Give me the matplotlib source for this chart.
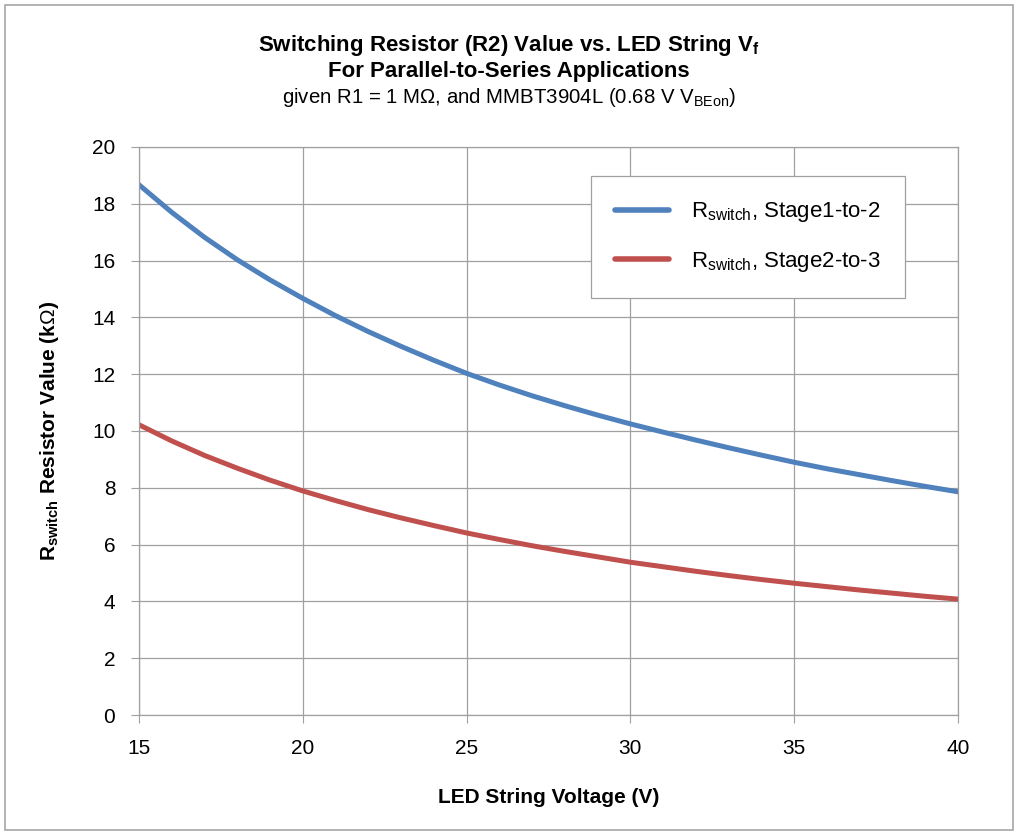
import matplotlib
matplotlib.use("Agg")
import matplotlib.pyplot as plt
from matplotlib.patches import Rectangle

plt.rcParams['font.family'] = ['Liberation Sans', 'DejaVu Sans']
plt.rcParams['mathtext.fontset'] = 'custom'
plt.rcParams['mathtext.rm'] = 'Liberation Sans'
plt.rcParams['mathtext.bf'] = 'Liberation Sans:bold'

voltage = [15, 16, 17, 18, 19, 20, 21, 22, 23, 24, 25, 26, 27, 28, 29, 30,
           31, 32, 33, 34, 35, 36, 37, 38, 39, 40]
stage1_to_2 = [18.67, 17.70, 16.82, 16.03, 15.32, 14.67, 14.06, 13.50, 12.98, 12.49,
               12.03, 11.62, 11.24, 10.89, 10.56, 10.25, 9.96, 9.68, 9.41, 9.15,
               8.90, 8.67, 8.46, 8.25, 8.05, 7.86]
stage2_to_3 = [10.22, 9.65, 9.14, 8.69, 8.27, 7.89, 7.55, 7.23, 6.94, 6.67,
               6.41, 6.18, 5.96, 5.76, 5.57, 5.38, 5.22, 5.06, 4.91, 4.77,
               4.64, 4.52, 4.40, 4.29, 4.18, 4.08]
series_labels = [r"R$_{\mathregular{switch}}$, Stage1-to-2",
                 r"R$_{\mathregular{switch}}$, Stage2-to-3"]
x_ticks = [15, 20, 25, 30, 35, 40]
y_ticks = [0, 2, 4, 6, 8, 10, 12, 14, 16, 18, 20]

FS = 15

fig = plt.figure(figsize=(10.18, 8.35), dpi=100)
fig.patches.append(Rectangle((0.005, 0.006), 0.99, 0.988, transform=fig.transFigure,
                             fill=False, edgecolor='#a6a6a6', linewidth=1.2))
ax = fig.add_axes([0.1365, 0.1437, 0.8045, 0.6803])

ax.plot(voltage, stage1_to_2, color='#4F81BD', linewidth=3.6, label=series_labels[0],
        solid_capstyle='round', solid_joinstyle='round')
ax.plot(voltage, stage2_to_3, color='#C0504D', linewidth=3.6, label=series_labels[1],
        solid_capstyle='round', solid_joinstyle='round')

ax.set_xlim(15, 40)
ax.set_ylim(0, 20)
ax.set_xticks(x_ticks)
ax.set_yticks(y_ticks)
ax.grid(True, color='#a0a0a0', linewidth=0.9)
ax.set_axisbelow(True)
for s in ax.spines.values():
    s.set_color('#a0a0a0')
    s.set_linewidth(0.9)
ax.tick_params(axis='both', direction='out', length=6, color='#a0a0a0',
               labelsize=FS, pad=11)

ax.set_xlabel("LED String Voltage (V)", fontsize=FS, fontweight='bold', labelpad=22)
ax.set_ylabel(r"R$_{\mathregular{switch}}$ Resistor Value (k$\Omega$)", fontsize=FS,
              fontweight='bold', labelpad=22)

fig.text(0.5, 0.945, r"Switching Resistor (R2) Value vs. LED String V$_{\mathregular{f}}$",
         ha='center', va='center', fontsize=16, fontweight='bold')
fig.text(0.5, 0.914, "For Parallel-to-Series Applications",
         ha='center', va='center', fontsize=16, fontweight='bold')
fig.text(0.5, 0.883, r"given R1 = 1 M$\Omega$, and MMBT3904L (0.68 V V$_{\mathregular{BEon}}$)",
         ha='center', va='center', fontsize=14.7)

leg = ax.legend(loc='upper left', bbox_to_anchor=(0.552, 0.949), fontsize=16,
                frameon=True, fancybox=False, edgecolor='#a0a0a0', framealpha=1,
                handlelength=2.4, handletextpad=1.0, borderpad=1.1, labelspacing=1.15,
                borderaxespad=0)
leg.get_frame().set_linewidth(0.9)
for h in leg.get_lines():
    h.set_linewidth(4.0)

fig.savefig("out.png", dpi=100, facecolor='white')
